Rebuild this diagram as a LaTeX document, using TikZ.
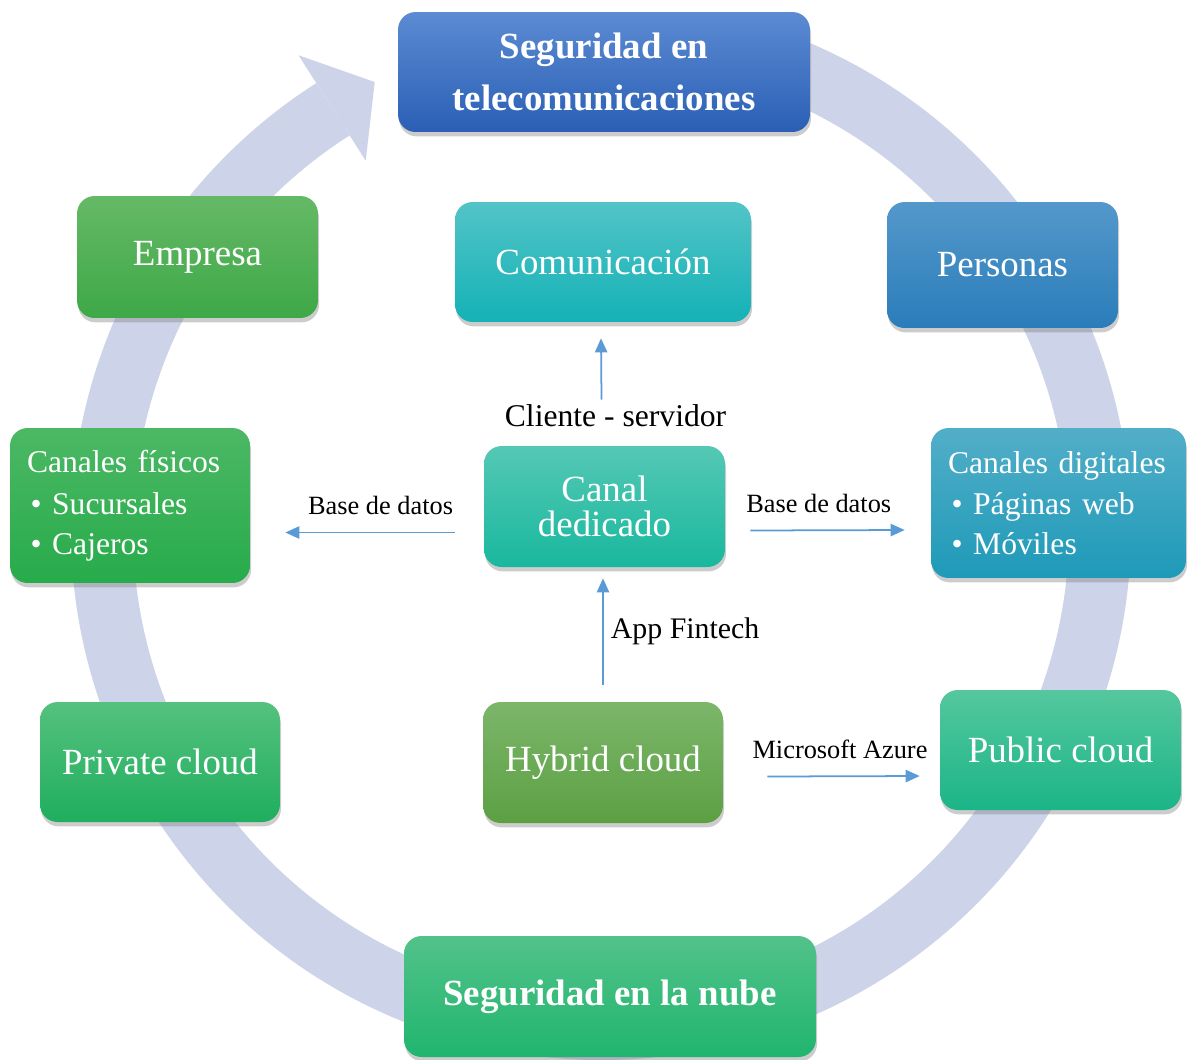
\documentclass[tikz,border=0pt]{standalone}
\usepackage{fontspec}
\setmainfont{Liberation Serif}
\usetikzlibrary{calc,shadows,arrows.meta}

\definecolor{anillo}{HTML}{CDD3E8}
\definecolor{flechaazul}{HTML}{5B9BD5}

\tikzset{
	caja/.style={rounded corners=10pt, text=white, align=center, inner sep=0pt,
		font=\fontsize{21}{25}\selectfont,
		drop shadow={shadow xshift=0.6pt, shadow yshift=-2.5pt, opacity=0.4}},
	lista/.style={caja, align=left, inner xsep=0.34cm,
		font=\fontsize{18}{22.7}\selectfont},
	flecha/.style={flechaazul, line width=1pt, -{Triangle[length=8pt,width=7pt]}},
	etiqueta/.style={text=black, inner sep=2pt}
}

\begin{document}
\begin{tikzpicture}[x=0.02cm,y=-0.02cm]
	\useasboundingbox (0,0) rectangle (1193,1059);
	\coordinate (centro) at (601,530);

	% anillo con flecha
	\draw[anillo, line width=1.24cm] ([shift={(70:9.98cm)}]centro)
		arc[start angle=70, end angle=-237.5, radius=9.98cm];
	\fill[anillo] ([shift={(122.5:11.26cm)}]centro) -- ([shift={(116.8:10.04cm)}]centro)
		-- ([shift={(122.5:8.76cm)}]centro) -- cycle;

	\node[caja, top color={rgb,255:red,92;green,139;blue,211},
		bottom color={rgb,255:red,42;green,95;blue,181},
		minimum width=8.24cm, minimum height=2.4cm,
		font=\fontsize{21}{29.5}\selectfont\bfseries] (tele) at (604,72)
		{Seguridad en\\telecomunicaciones};
	\node[caja, top color={rgb,255:red,82;green,196;blue,199},
		bottom color={rgb,255:red,20;green,178;blue,182},
		minimum width=5.92cm, minimum height=2.4cm] (comun) at (603,262) {Comunicación};
	\node[caja, top color={rgb,255:red,101;green,185;blue,102},
		bottom color={rgb,255:red,62;green,168;blue,71},
		minimum width=4.82cm, minimum height=2.44cm] (emp) at (197.5,257) {Empresa};
	\node[caja, top color={rgb,255:red,84;green,152;blue,203},
		bottom color={rgb,255:red,42;green,125;blue,186},
		minimum width=4.62cm, minimum height=2.52cm] (pers) at (1002.5,265) {Personas};

	\node[lista, top color={rgb,255:red,76;green,184;blue,100},
		bottom color={rgb,255:red,39;green,171;blue,75},
		text width=4.12cm, minimum height=3.1cm] (fis) at (130,505.5)
		{Canales físicos\\[1pt]\hspace{2pt}•\hspace{6pt}Sucursales\\\hspace{2pt}•\hspace{6pt}Cajeros};
	\node[caja, top color={rgb,255:red,85;green,200;blue,181},
		bottom color={rgb,255:red,24;green,184;blue,158},
		minimum width=4.82cm, minimum height=2.42cm,
		font=\fontsize{21}{20}\selectfont] (ded) at (604.5,506.5) {Canal\\dedicado};
	\node[lista, top color={rgb,255:red,82;green,174;blue,200},
		bottom color={rgb,255:red,30;green,154;blue,184},
		text width=4.42cm, minimum height=3cm] (dig) at (1058.5,503)
		{Canales digitales\\[1pt]\hspace{2pt}•\hspace{6pt}Páginas web\\\hspace{2pt}•\hspace{6pt}Móviles};

	\node[caja, top color={rgb,255:red,85;green,193;blue,126},
		bottom color={rgb,255:red,31;green,174;blue,94},
		minimum width=4.8cm, minimum height=2.4cm] (priv) at (160,762) {Private cloud};
	\node[caja, top color={rgb,255:red,124;green,182;blue,106},
		bottom color={rgb,255:red,92;green,160;blue,67},
		minimum width=4.8cm, minimum height=2.42cm] (hib) at (603,762.5) {Hybrid cloud};
	\node[caja, top color={rgb,255:red,85;green,199;blue,158},
		bottom color={rgb,255:red,27;green,181;blue,135},
		minimum width=4.82cm, minimum height=2.4cm] (pub) at (1060.5,750) {Public cloud};
	\node[caja, top color={rgb,255:red,82;green,194;blue,138},
		bottom color={rgb,255:red,32;green,181;blue,110},
		minimum width=8.24cm, minimum height=2.42cm,
		font=\fontsize{21}{25}\selectfont\bfseries] (nube) at (610,996.5) {Seguridad en la nube};

	% conectores
	\draw[flecha] ($(ded.north)+(-3,-46)$) -- ($(comun.south)+(-2,16)$)
		node[etiqueta, at start, below, xshift=8pt, font=\fontsize{18}{20}\selectfont] {Cliente - servidor};
	\draw[flecha] ($(ded.west)+(-29,26)$) -- ($(fis.east)+(35,27)$)
		node[etiqueta, midway, above, xshift=6pt, yshift=7.5pt, font=\fontsize{15}{17}\selectfont] {Base de datos};
	\draw[flecha] ($(ded.east)+(25,24)$) -- ($(dig.west)+(-26,27)$)
		node[etiqueta, midway, above, xshift=-5pt, yshift=7.5pt, font=\fontsize{15}{17}\selectfont] {Base de datos};
	\draw[flecha] ($(hib.north)+(0,-17)$) -- ($(ded.south)+(-1.5,11)$)
		node[etiqueta, midway, right, xshift=2pt, font=\fontsize{17}{19}\selectfont] {App Fintech};
	\draw[flecha] ($(hib.east)+(44,14)$) -- ($(pub.west)+(-20,26)$)
		node[etiqueta, midway, above, xshift=-2pt, yshift=7.5pt, font=\fontsize{15}{17}\selectfont] {Microsoft Azure};

\end{tikzpicture}
\end{document}
